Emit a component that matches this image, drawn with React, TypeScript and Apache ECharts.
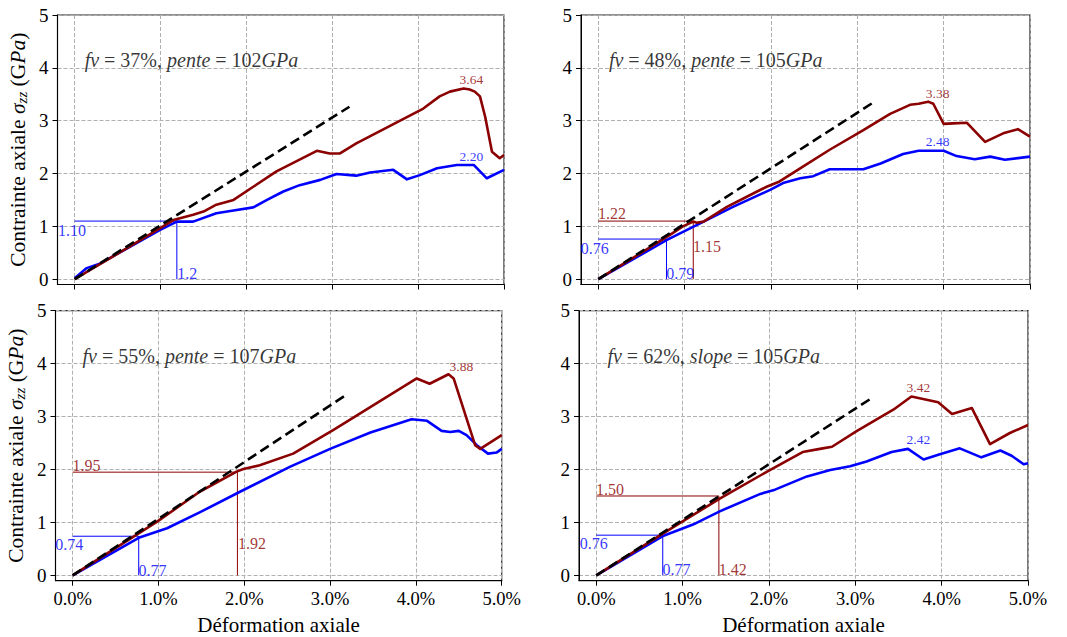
import React, { useEffect, useRef } from "react";
import * as echarts from "echarts";

// ---------- data ----------
const X_TICKS = [0, 1, 2, 3, 4, 5];
const Y_TICKS = [0, 1, 2, 3, 4, 5];

const FV = ["37%", "48%", "55%", "62%"];
const SLOPE_WORD = ["pente", "pente", "pente", "slope"];
const SLOPES = [102, 105, 107, 105];
const DASH_END_X = 3.2;

const RED_1 = [[0, 0], [0.6, 0.58], [1.15, 1.12], [1.38, 1.22], [1.5, 1.28], [1.65, 1.41], [1.85, 1.5], [2.08, 1.75], [2.35, 2.04], [2.82, 2.43], [2.97, 2.38], [3.09, 2.38], [3.28, 2.57], [4.06, 3.23], [4.25, 3.46], [4.37, 3.55], [4.53, 3.61], [4.6, 3.59], [4.66, 3.55], [4.72, 3.46], [4.78, 3.08], [4.86, 2.41], [4.95, 2.29], [5.0, 2.35]];
const BLUE_1 = [[0, 0.02], [0.14, 0.21], [0.3, 0.3], [0.99, 0.93], [1.19, 1.09], [1.38, 1.09], [1.65, 1.25], [1.85, 1.3], [2.08, 1.36], [2.24, 1.5], [2.43, 1.66], [2.62, 1.78], [2.86, 1.88], [3.05, 1.99], [3.28, 1.96], [3.44, 2.02], [3.71, 2.07], [3.87, 1.89], [4.02, 1.97], [4.22, 2.1], [4.45, 2.16], [4.65, 2.16], [4.8, 1.91], [5.0, 2.07]];

const RED_2 = [[0, 0], [0.37, 0.37], [0.83, 0.84], [0.98, 1.0], [1.1, 1.09], [1.14, 1.07], [1.22, 1.09], [1.49, 1.37], [1.72, 1.56], [1.95, 1.75], [2.1, 1.85], [2.37, 2.13], [2.68, 2.45], [3.07, 2.82], [3.38, 3.13], [3.61, 3.3], [3.71, 3.32], [3.82, 3.36], [3.88, 3.32], [4.0, 2.94], [4.11, 2.95], [4.27, 2.96], [4.48, 2.6], [4.69, 2.76], [4.86, 2.84], [5.0, 2.7]];
const BLUE_2 = [[0, 0], [0.79, 0.74], [1.22, 1.09], [1.56, 1.37], [1.99, 1.69], [2.14, 1.82], [2.34, 1.91], [2.49, 1.95], [2.68, 2.08], [3.07, 2.08], [3.27, 2.19], [3.53, 2.37], [3.71, 2.43], [4.0, 2.43], [4.15, 2.33], [4.36, 2.27], [4.54, 2.32], [4.71, 2.26], [5.0, 2.32]];

const RED_3 = [[0, 0], [0.98, 1.01], [1.48, 1.58], [1.91, 1.96], [1.99, 2.01], [2.18, 2.08], [2.57, 2.3], [3.04, 2.75], [4.01, 3.72], [4.16, 3.62], [4.38, 3.8], [4.44, 3.72], [4.69, 2.46], [4.75, 2.39], [5.0, 2.65]];
const BLUE_3 = [[0, 0], [0.77, 0.71], [1.1, 0.89], [1.48, 1.19], [1.95, 1.58], [2.53, 2.05], [3.0, 2.39], [3.47, 2.7], [3.95, 2.95], [4.13, 2.92], [4.3, 2.73], [4.4, 2.71], [4.5, 2.73], [4.59, 2.65], [4.71, 2.46], [4.84, 2.3], [4.94, 2.32], [5.0, 2.39]];

const RED_4 = [[0, 0], [0.78, 0.8], [1.0, 1.02], [1.43, 1.45], [2.01, 1.99], [2.39, 2.33], [2.59, 2.39], [2.73, 2.43], [3.02, 2.73], [3.44, 3.13], [3.65, 3.38], [3.96, 3.27], [4.12, 3.05], [4.35, 3.16], [4.56, 2.48], [4.79, 2.69], [5.0, 2.84]];
const BLUE_4 = [[0, 0], [0.78, 0.75], [1.12, 0.96], [1.43, 1.21], [1.9, 1.54], [2.07, 1.62], [2.44, 1.87], [2.71, 1.99], [2.94, 2.06], [3.13, 2.15], [3.42, 2.33], [3.61, 2.39], [3.79, 2.19], [3.98, 2.29], [4.21, 2.4], [4.46, 2.23], [4.68, 2.36], [4.81, 2.26], [4.95, 2.1], [5.0, 2.12]];

const REDS = [RED_1, RED_2, RED_3, RED_4];
const BLUES = [BLUE_1, BLUE_2, BLUE_3, BLUE_4];

// guide lines: [x, y] of the corner point (null = none)
const RED_GUIDE = [null, [1.1, 1.1], [1.92, 1.95], [1.42, 1.5]];
const BLUE_GUIDE = [[1.19, 1.1], [0.79, 0.76], [0.77, 0.74], [0.77, 0.76]];

// text labels: [x, y, text, colour key, size key]
const LABELS_1 = [[4.62, 3.77, "3.64", "r", "s"], [4.62, 2.32, "2.20", "b", "s"], [-0.03, 0.93, "1.10", "b", "m"], [1.31, 0.1, "1.2", "b", "m"]];
const LABELS_2 = [[3.93, 3.52, "3.38", "r", "s"], [3.93, 2.6, "2.48", "b", "s"], [0.16, 1.25, "1.22", "r", "m"], [1.26, 0.61, "1.15", "r", "m"], [-0.04, 0.59, "0.76", "b", "m"], [0.95, 0.1, "0.79", "b", "m"]];
const LABELS_3 = [[4.53, 3.94, "3.88", "r", "s"], [0.16, 2.08, "1.95", "r", "m"], [2.09, 0.6, "1.92", "r", "m"], [-0.04, 0.59, "0.74", "b", "m"], [0.93, 0.1, "0.77", "b", "m"]];
const LABELS_4 = [[3.73, 3.55, "3.42", "r", "s"], [3.73, 2.56, "2.42", "b", "s"], [0.16, 1.62, "1.50", "r", "m"], [1.58, 0.11, "1.42", "r", "m"], [-0.03, 0.61, "0.76", "b", "m"], [0.93, 0.11, "0.77", "b", "m"]];
const LABELS = [LABELS_1, LABELS_2, LABELS_3, LABELS_4];

const TITLE_POS = [1.36, 4.14];

// ---------- styles ----------
const FONT = "'Liberation Serif', 'DejaVu Serif', serif";
const RED = "#8B0000";
const BLUE = "#0000FF";

const GRIDS = [
  { left: 57.5, top: 15, width: 446.5, height: 269.5 },
  { left: 581, top: 15, width: 449, height: 269.5 },
  { left: 55.5, top: 310.7, width: 446.2, height: 270 },
  { left: 579, top: 310.7, width: 449, height: 270 },
];

export default function App() {
  const ref = useRef<HTMLDivElement>(null);

  useEffect(() => {
    if (!ref.current) return;
    const chart = echarts.init(ref.current, undefined, { renderer: "svg" });

    const xAxes: any[] = [];
    const yAxes: any[] = [];
    const series: any[] = [];

    for (let i = 0; i < 4; i++) {
      const bottom = i >= 2;
      const left = i % 2 === 0;
      xAxes.push({
        type: "value",
        gridIndex: i,
        min: -0.2,
        max: 5,
        axisLine: { show: true, onZero: false, lineStyle: { color: "#000", width: 1 } },
        axisTick: { show: true, inside: false, length: 5, customValues: X_TICKS, lineStyle: { color: "#000", width: 1 } },
        axisLabel: {
          show: bottom,
          customValues: X_TICKS,
          formatter: (v: number) => (v < 0 ? "" : v.toFixed(1) + "%"),
          fontFamily: FONT,
          fontSize: 18.5,
          color: "#000",
          margin: 9,
        },
        splitLine: { show: true, lineStyle: { type: [4, 2], color: "#b0b0b0", width: 1 } },
        name: bottom ? "Déformation axiale" : "",
        nameLocation: "middle",
        nameGap: 34,
        nameTextStyle: { fontFamily: FONT, fontSize: 21, color: "#000" },
      });
      yAxes.push({
        type: "value",
        gridIndex: i,
        min: -0.1,
        max: 5,
        axisLine: { show: true, onZero: false, lineStyle: { color: "#000", width: 1 } },
        axisTick: { show: true, inside: false, length: 5, customValues: Y_TICKS, lineStyle: { color: "#000", width: 1 } },
        axisLabel: {
          customValues: Y_TICKS,
          formatter: (v: number) => (v < 0 ? "" : String(Math.round(v))),
          fontFamily: FONT,
          fontSize: 19,
          color: "#000",
          margin: 9,
        },
        splitLine: { show: true, lineStyle: { type: [4, 2], color: "#b0b0b0", width: 1 } },
        name: left ? "Contrainte axiale {i|σ}{sub|zz} (G{i|Pa})" : "",
        nameLocation: "middle",
        nameGap: 28,
        nameTextStyle: {
          fontFamily: FONT,
          fontSize: 21.5,
          color: "#000",
          rich: {
            i: { fontFamily: FONT, fontSize: 21.5, fontStyle: "italic", color: "#000" },
            sub: { fontFamily: FONT, fontSize: 15, fontStyle: "italic", color: "#000", padding: [9, 0, 0, 0] },
          },
        },
      });

      const slope = SLOPES[i] / 100;

      // guide lines
      const rg = RED_GUIDE[i];
      if (rg) {
        series.push({
          type: "line", xAxisIndex: i, yAxisIndex: i, symbol: "none", silent: true, z: 2,
          lineStyle: { color: RED, width: 1 },
          data: [[0, rg[1]], [rg[0], rg[1]], [rg[0], 0]],
        });
      }
      const bg = BLUE_GUIDE[i];
      series.push({
        type: "line", xAxisIndex: i, yAxisIndex: i, symbol: "none", silent: true, z: 2,
        lineStyle: { color: BLUE, width: 1 },
        data: [[0, bg[1]], [bg[0], bg[1]], [bg[0], 0]],
      });

      series.push({
        type: "line", xAxisIndex: i, yAxisIndex: i, symbol: "none", silent: true, z: 3,
        lineStyle: { color: BLUE, width: 2.6, join: "round" },
        data: BLUES[i],
      });
      series.push({
        type: "line", xAxisIndex: i, yAxisIndex: i, symbol: "none", silent: true, z: 4,
        lineStyle: { color: RED, width: 2.6, join: "round" },
        data: REDS[i],
      });
      series.push({
        type: "line", xAxisIndex: i, yAxisIndex: i, symbol: "none", silent: true, z: 5,
        lineStyle: { color: "#000", width: 2.6, type: [10, 5] },
        data: [[0, 0], [DASH_END_X, DASH_END_X * slope]],
      });

      // texts
      const labelData: any[] = LABELS[i].map((l: any) => ({
        value: [l[0], l[1]],
        label: {
          formatter: l[2],
          color: l[3] === "r" ? RED : BLUE,
          fontSize: l[4] === "s" ? 13.5 : 16,
        },
      }));
      labelData.push({
        value: TITLE_POS,
        label: {
          formatter: `{i|fv} = ${FV[i]}, {i|${SLOPE_WORD[i]}} = ${SLOPES[i]}{i|GPa}`,
          color: "#000",
          fontSize: 20,
        },
      });
      series.push({
        type: "scatter", xAxisIndex: i, yAxisIndex: i, symbolSize: 0, silent: true, z: 10,
        label: {
          show: true,
          position: "inside",
          fontFamily: FONT,
          rich: {
            i: { fontFamily: FONT, fontSize: 20, fontStyle: "italic", color: "#000" },
          },
        },
        data: labelData,
      });
    }

    chart.setOption({
      animation: false,
      backgroundColor: "#fff",
      grid: GRIDS.map((g) => ({ ...g, show: true, borderColor: "#222", borderWidth: 1.2, backgroundColor: "transparent" })),
      xAxis: xAxes,
      yAxis: yAxes,
      series,
    });

    return () => chart.dispose();
  }, []);

  return <div ref={ref} style={{ position: "fixed", left: 0, top: 0, width: 1067, height: 637 }} />;
}
